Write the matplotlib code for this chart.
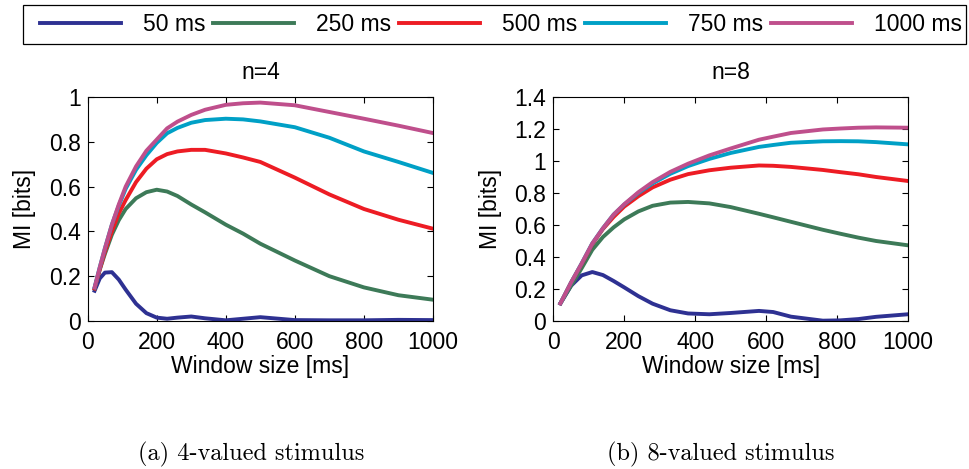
import matplotlib
matplotlib.use("Agg")
import matplotlib.pyplot as plt
from matplotlib.patches import Rectangle

plt.rcParams['font.family'] = ['Liberation Sans', 'DejaVu Sans']

labels = ['50 ms', '250 ms', '500 ms', '750 ms', '1000 ms']
colors = ['#2e3192', '#3d7a58', '#ed1c24', '#00a0c6', '#bf4f8c']

# n=4 panel
x4 = [20, 35, 50, 70, 90, 110, 140, 170, 200, 230, 260, 300, 340, 400, 450, 500, 600, 700, 800, 900, 1000]
y4 = {
    '50 ms':   [0.135, 0.19, 0.216, 0.218, 0.185, 0.14, 0.077, 0.035, 0.015, 0.01, 0.015, 0.02, 0.012,
                0.003, 0.01, 0.017, 0.004, 0.003, 0.003, 0.005, 0.004],
    '250 ms':  [0.145, 0.23, 0.30, 0.385, 0.45, 0.50, 0.548, 0.575, 0.586, 0.578, 0.558, 0.52, 0.485,
                0.43, 0.39, 0.345, 0.27, 0.20, 0.15, 0.115, 0.095],
    '500 ms':  [0.145, 0.23, 0.31, 0.40, 0.48, 0.54, 0.62, 0.68, 0.722, 0.745, 0.757, 0.764, 0.764,
                0.748, 0.73, 0.71, 0.64, 0.565, 0.50, 0.452, 0.412],
    '750 ms':  [0.15, 0.24, 0.325, 0.43, 0.515, 0.59, 0.675, 0.74, 0.795, 0.838, 0.862, 0.885, 0.897,
                0.903, 0.90, 0.891, 0.865, 0.818, 0.757, 0.71, 0.661],
    '1000 ms': [0.15, 0.24, 0.325, 0.43, 0.52, 0.60, 0.69, 0.76, 0.81, 0.86, 0.89, 0.92, 0.943,
                0.965, 0.972, 0.975, 0.963, 0.933, 0.903, 0.872, 0.839],
}

# n=8 panel
x8 = [20, 50, 80, 110, 140, 170, 200, 240, 280, 330, 380, 440, 500, 580, 620, 670, 760, 810, 860, 910, 1000]
y8 = {
    '50 ms':   [0.11, 0.22, 0.285, 0.306, 0.287, 0.25, 0.21, 0.155, 0.108, 0.067, 0.047, 0.042, 0.05,
                0.063, 0.056, 0.027, 0.002, 0.004, 0.012, 0.026, 0.042],
    '250 ms':  [0.11, 0.22, 0.33, 0.445, 0.525, 0.585, 0.635, 0.685, 0.72, 0.74, 0.744, 0.735, 0.712,
                0.67, 0.648, 0.62, 0.57, 0.545, 0.521, 0.50, 0.473],
    '500 ms':  [0.11, 0.24, 0.355, 0.48, 0.575, 0.65, 0.715, 0.78, 0.835, 0.883, 0.918, 0.942, 0.958,
                0.972, 0.97, 0.963, 0.944, 0.93, 0.917, 0.90, 0.875],
    '750 ms':  [0.11, 0.24, 0.36, 0.485, 0.58, 0.665, 0.728, 0.80, 0.86, 0.92, 0.968, 1.013, 1.05,
                1.088, 1.10, 1.114, 1.123, 1.124, 1.123, 1.118, 1.104],
    '1000 ms': [0.11, 0.24, 0.36, 0.485, 0.58, 0.665, 0.73, 0.805, 0.868, 0.932, 0.983, 1.035, 1.078,
                1.133, 1.152, 1.175, 1.197, 1.203, 1.208, 1.21, 1.208],
}

W, H = 969, 469
fig = plt.figure(figsize=(W / 100, H / 100), dpi=100)
ax1 = fig.add_axes([0.0905, 0.3156, 0.3563, 0.4776])
ax2 = fig.add_axes([0.5710, 0.3156, 0.3660, 0.4776])

fs = 16.5
for ax, xs, ys, title, ylim, yt in [
    (ax1, x4, y4, 'n=4', 1.0, [0, 0.2, 0.4, 0.6, 0.8, 1]),
    (ax2, x8, y8, 'n=8', 1.4, [0, 0.2, 0.4, 0.6, 0.8, 1, 1.2, 1.4]),
]:
    for lab, c in zip(labels, colors):
        ax.plot(xs, ys[lab], color=c, lw=2.8, label=lab, solid_joinstyle='round')
    ax.set_xlim(0, 1000)
    ax.set_ylim(0, ylim)
    ax.set_xticks([0, 200, 400, 600, 800, 1000])
    ax.set_yticks(yt)
    ax.set_yticklabels(['%g' % v for v in yt])
    ax.tick_params(direction='in', top=True, right=True, labelsize=fs, length=4)
    ax.tick_params(axis='x', pad=7)
    ax.tick_params(axis='y', pad=5)
    ax.set_title(title, fontsize=fs, pad=13)
    ax.set_xlabel('Window size [ms]', fontsize=fs, labelpad=1)
    ax.set_ylabel('MI [bits]', fontsize=fs, labelpad=9)
    for s in ax.spines.values():
        s.set_linewidth(0.8)

# legend entries spread over one row, box drawn separately (MATLAB style padding)
handles, labs = ax1.get_legend_handles_labels()
fig.legend(handles, labs, ncol=5, loc='center', mode='expand',
           bbox_to_anchor=(40 / W, 1 - 44 / H, 922 / W, 39 / H),
           fontsize=fs, frameon=False, handlelength=3.54,
           borderaxespad=0, borderpad=0, handletextpad=0.96)
fig.add_artist(Rectangle((23 / W, 1 - 44 / H), 943 / W, 39 / H, transform=fig.transFigure,
                         fill=False, edgecolor='black', linewidth=0.9))

fig.text(0.259, 0.019, '(a) 4-valued stimulus', family='cmr10', fontsize=17.5,
         ha='center', va='baseline')
fig.text(0.744, 0.019, '(b) 8-valued stimulus', family='cmr10', fontsize=17.5,
         ha='center', va='baseline')

fig.savefig('out.png', dpi=100)
